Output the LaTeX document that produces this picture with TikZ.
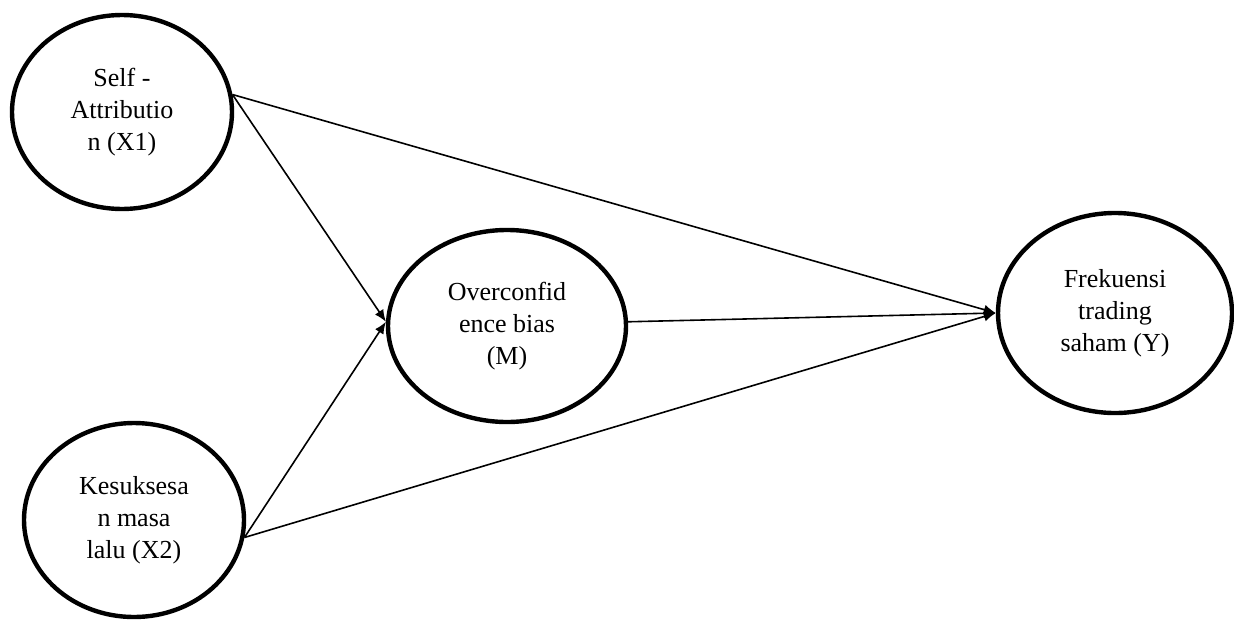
\documentclass[tikz,border=0pt]{standalone}
\usepackage{fontspec}
\setmainfont{Liberation Serif}
\usetikzlibrary{shapes.geometric,arrows.meta}
\tikzset{
  latent/.style={ellipse, draw, line width=2.2pt, align=center,
    font=\fontsize{13}{16}\selectfont, inner sep=0pt},
  path/.style={line width=0.8pt, -{Latex[length=6pt,width=5pt]}}
}
\begin{document}
\begin{tikzpicture}[x=0.5pt,y=-0.5pt]
      \useasboundingbox (0,0) rectangle (1234,621);
      \draw
        (122,112) node[latent, minimum width=110pt, minimum height=97pt] (x1){Self -\\Attributio\\n (X1)}
        (134,520) node[latent, minimum width=110pt, minimum height=97pt] (x2){Kesuksesa\\n masa\\lalu (X2)}
        (507,326) node[latent, minimum width=119pt, minimum height=96pt] (m){Overconfid\\ence bias\\(M)}
        (1115,313) node[latent, minimum width=117pt, minimum height=100pt] (y){Frekuensi\\trading\\saham (Y)};
      \begin{scope}[path]
        \draw (x1.9) to (m.178);
        \draw (x1.9) to (y.180);
        \draw (x2.351) to (m.178);
        \draw (x2.351) to (y.180);
        \draw (m.2) to (y.180);
      \end{scope}
    \end{tikzpicture}
\end{document}
